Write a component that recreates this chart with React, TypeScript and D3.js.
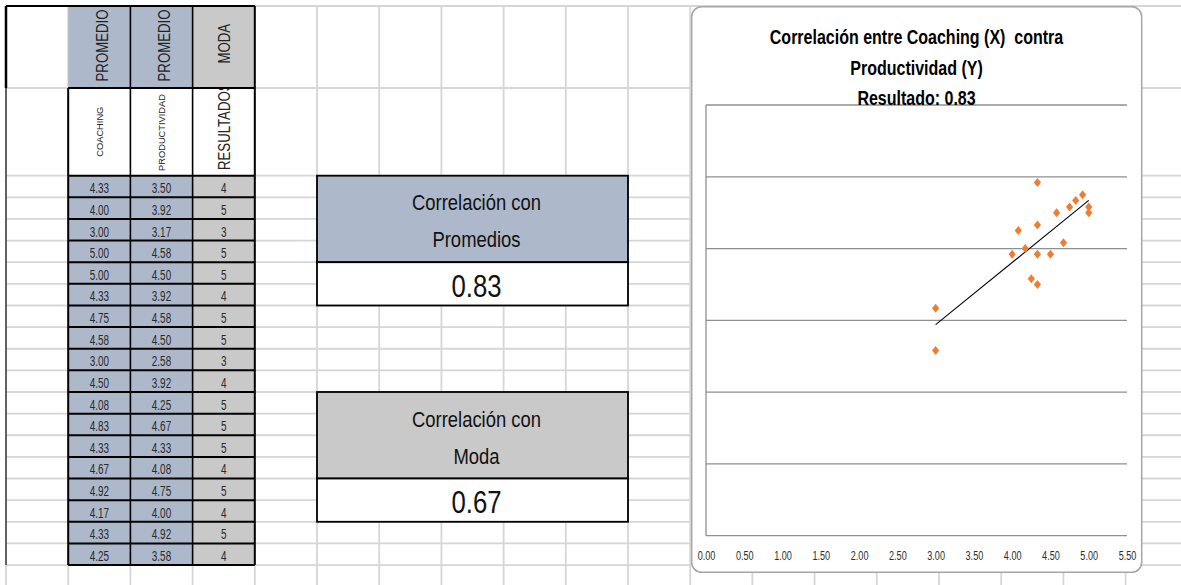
import React, { useRef, useEffect } from "react";
import { select, scaleLinear, axisBottom, format, mean, sum, extent, range, line } from "d3";

// spreadsheet values
const coaching = [4.33, 4.0, 3.0, 5.0, 5.0, 4.33, 4.75, 4.58, 3.0, 4.5, 4.08, 4.83, 4.33, 4.67, 4.92, 4.17, 4.33, 4.25];
const productividad = [3.5, 3.92, 3.17, 4.58, 4.5, 3.92, 4.58, 4.5, 2.58, 3.92, 4.25, 4.67, 4.33, 4.08, 4.75, 4.0, 4.92, 3.58];
const moda = [4, 5, 3, 5, 5, 4, 5, 5, 3, 4, 5, 5, 5, 4, 5, 4, 5, 4];

const headerTop = ["PROMEDIO", "PROMEDIO", "MODA"];
const headerSub = ["COACHING", "PRODUCTIVIDAD", "RESULTADOS"];

const corrLabels = ["Promedios", "Moda"];
const corrValues = ["0.83", "0.67"];

const chartTitle = ["Correlación entre Coaching (X)  contra", "Productividad (Y)", "Resultado: 0.83"];
const xTicks = [0, 0.5, 1, 1.5, 2, 2.5, 3, 3.5, 4, 4.5, 5, 5.5];
const yGrid = [0, 1, 2, 3, 4, 5, 6];

const FONT = "'Liberation Sans', Arial, sans-serif";
const BLUE = "#adb9ca";
const GRAY = "#c9c9c9";
const ORANGE = "#ed7d31";

// sheet geometry
const COL0 = 6;
const COLW = 62.2;
const ROW_DATA = 175.7;
const ROWH = 21.63;
const colEdges = range(0, 20).map((k) => COL0 + k * COLW);
const rowEdges = [6, 88, ...range(0, 20).map((i) => ROW_DATA + i * ROWH)];
const colX = (k) => COL0 + k * COLW;
const rowY = (i) => ROW_DATA + i * ROWH;

function Txt({ x, y, size, sx = 1, rot = 0, anchor = "middle", weight = "normal", fill = "#111", children }) {
  return (
    <text
      transform={`translate(${x},${y}) rotate(${rot}) scale(${sx},1)`}
      fontSize={size}
      fontFamily={FONT}
      fontWeight={weight}
      textAnchor={anchor}
      fill={fill}
      style={{ whiteSpace: "pre" }}
    >
      {children}
    </text>
  );
}

function App() {
  const axisRef = useRef();

  // chart scales
  const xScale = scaleLinear().domain([0, 5.5]).range([706, 1127]);
  const yScale = scaleLinear().domain([0, 6]).range([535.7, 105]);

  // linear trend line (least squares)
  const mx = mean(coaching);
  const my = mean(productividad);
  const slope =
    sum(coaching, (d, i) => (d - mx) * (productividad[i] - my)) / sum(coaching, (d) => (d - mx) * (d - mx));
  const intercept = my - slope * mx;
  const trend = extent(coaching).map((v) => [v, intercept + slope * v]);
  const trendPath = line()
    .x((d) => xScale(d[0]))
    .y((d) => yScale(d[1]))(trend);

  useEffect(() => {
    const g = select(axisRef.current);
    g.call(axisBottom(xScale).tickValues(xTicks).tickFormat(format(".2f")).tickSize(0));
    g.select(".domain").remove();
    g.selectAll("text")
      .attr("y", 24.5)
      .attr("dy", 0)
      .attr("font-size", 13)
      .attr("font-family", FONT)
      .attr("fill", "#2e2e2e")
      .attr("transform", "scale(0.7,1)");
  }, []);

  const cols = [
    { vals: coaching.map(format(".2f")), fill: BLUE },
    { vals: productividad.map(format(".2f")), fill: BLUE },
    { vals: moda.map(String), fill: GRAY },
  ];
  const tableBottom = rowY(coaching.length);

  return (
    <svg width={1181} height={585} style={{ position: "absolute", left: 0, top: 0, display: "block" }}>
      <rect x={0} y={0} width={1181} height={585} fill="#fff" />

      {/* sheet gridlines */}
      <g stroke="#d6d6d6" strokeWidth={1.8}>
        {rowEdges.map((y, i) => (
          <line key={"r" + i} x1={6} x2={1181} y1={y} y2={y} />
        ))}
        {colEdges.map((x, i) => (
          <line key={"c" + i} x1={x} x2={x} y1={6} y2={585} />
        ))}
      </g>

      {/* table */}
      <defs>
        <clipPath id="resClip">
          <rect x={colX(3)} y={88} width={COLW} height={ROW_DATA - 88} />
        </clipPath>
      </defs>
      {cols.map((c, k) => (
        <g key={"col" + k}>
          <rect x={colX(k + 1)} y={6} width={COLW} height={82} fill={c.fill} />
          <rect x={colX(k + 1)} y={88} width={COLW} height={ROW_DATA - 88} fill="#fff" />
          <rect x={colX(k + 1)} y={ROW_DATA} width={COLW} height={tableBottom - ROW_DATA} fill={c.fill} />
          {c.vals.map((v, i) => (
            <Txt key={i} x={colX(k + 1) + COLW / 2} y={rowY(i) + 17.6} size={15.5} sx={0.64} fill="#2a2a2a">
              {v}
            </Txt>
          ))}
        </g>
      ))}
      <Txt x={108.3} y={45.5} size={16.5} sx={0.8} rot={-90} fill="#222">{headerTop[0]}</Txt>
      <Txt x={170} y={45.5} size={16.5} sx={0.8} rot={-90} fill="#222">{headerTop[1]}</Txt>
      <Txt x={230} y={43.7} size={16.5} sx={0.8} rot={-90} fill="#222">{headerTop[2]}</Txt>
      <Txt x={103.3} y={131.7} size={9.3} rot={-90} fill="#222">{headerSub[0]}</Txt>
      <Txt x={165} y={132.5} size={9.3} rot={-90} fill="#222">{headerSub[1]}</Txt>
      <g clipPath="url(#resClip)">
        <Txt x={230} y={170} size={16.5} sx={0.8} rot={-90} anchor="start" fill="#222">{headerSub[2]}</Txt>
      </g>

      {/* table borders */}
      <g stroke="#000" strokeWidth={2}>
        <line x1={6} x2={6} y1={6} y2={88} strokeWidth={2.5} />
        <line x1={6} x2={6} y1={88} y2={tableBottom} stroke="#444" strokeWidth={1.6} />
        <line x1={6} x2={255} y1={6} y2={6} />
        <line x1={colX(1)} x2={colX(4)} y1={88} y2={88} />
        {range(0, coaching.length + 1).map((i) => (
          <line key={"h" + i} x1={colX(1)} x2={colX(4)} y1={rowY(i)} y2={rowY(i)} />
        ))}
        {[1, 2, 3, 4].map((k) => (
          <line key={"v" + k} x1={colX(k)} x2={colX(k)} y1={k === 1 ? 88 : 6} y2={tableBottom} strokeWidth={k === 2 || k === 3 ? 1.6 : 2} />
        ))}
      </g>

      {/* correlation boxes */}
      {[0, 1].map((b) => {
        const top = rowY(b === 0 ? 0 : 10);
        const mid = rowY(b === 0 ? 4 : 14);
        const bot = rowY(b === 0 ? 6 : 16);
        const x0 = colX(5);
        const x1 = colX(10);
        const cx = (x0 + x1) / 2 + 4;
        return (
          <g key={"box" + b}>
            <rect x={x0} y={top} width={x1 - x0} height={mid - top} fill={b === 0 ? BLUE : GRAY} stroke="#000" strokeWidth={1.8} />
            <rect x={x0} y={mid} width={x1 - x0} height={bot - mid} fill="#fff" stroke="#000" strokeWidth={1.8} />
            <Txt x={cx} y={top + 34.5} size={22.5} sx={0.82}>Correlación con</Txt>
            <Txt x={cx} y={top + 71.5} size={22.5} sx={0.82}>{corrLabels[b]}</Txt>
            <Txt x={cx} y={bot - 8.5} size={31} sx={0.83}>{corrValues[b]}</Txt>
          </g>
        );
      })}

      {/* scatter chart */}
      <rect x={691.7} y={6.7} width={450} height={565.6} rx={10} fill="#fff" stroke="#a6a6a6" strokeWidth={1.5} />
      <g stroke="#8f8f8f" strokeWidth={1.3}>
        {yGrid.map((v) => (
          <line key={v} x1={xScale(0)} x2={xScale(5.5)} y1={yScale(v)} y2={yScale(v)} />
        ))}
        <line x1={xScale(0)} x2={xScale(0)} y1={yScale(6)} y2={yScale(0)} />
      </g>
      <g ref={axisRef} transform={`translate(0,${yScale(0)})`} />
      {chartTitle.map((t, i) => (
        <Txt key={i} x={916.5} y={43.8 + i * 30.7} size={20} sx={0.8} weight="bold" fill="#000">
          {t}
        </Txt>
      ))}
      <path d={trendPath} stroke="#000" strokeWidth={1.1} fill="none" />
      {coaching.map((v, i) => (
        <path
          key={i}
          transform={`translate(${xScale(v)},${yScale(productividad[i])})`}
          d="M0,-4.5L3.6,0L0,4.5L-3.6,0Z"
          fill={ORANGE}
        />
      ))}
    </svg>
  );
}

export default App;
